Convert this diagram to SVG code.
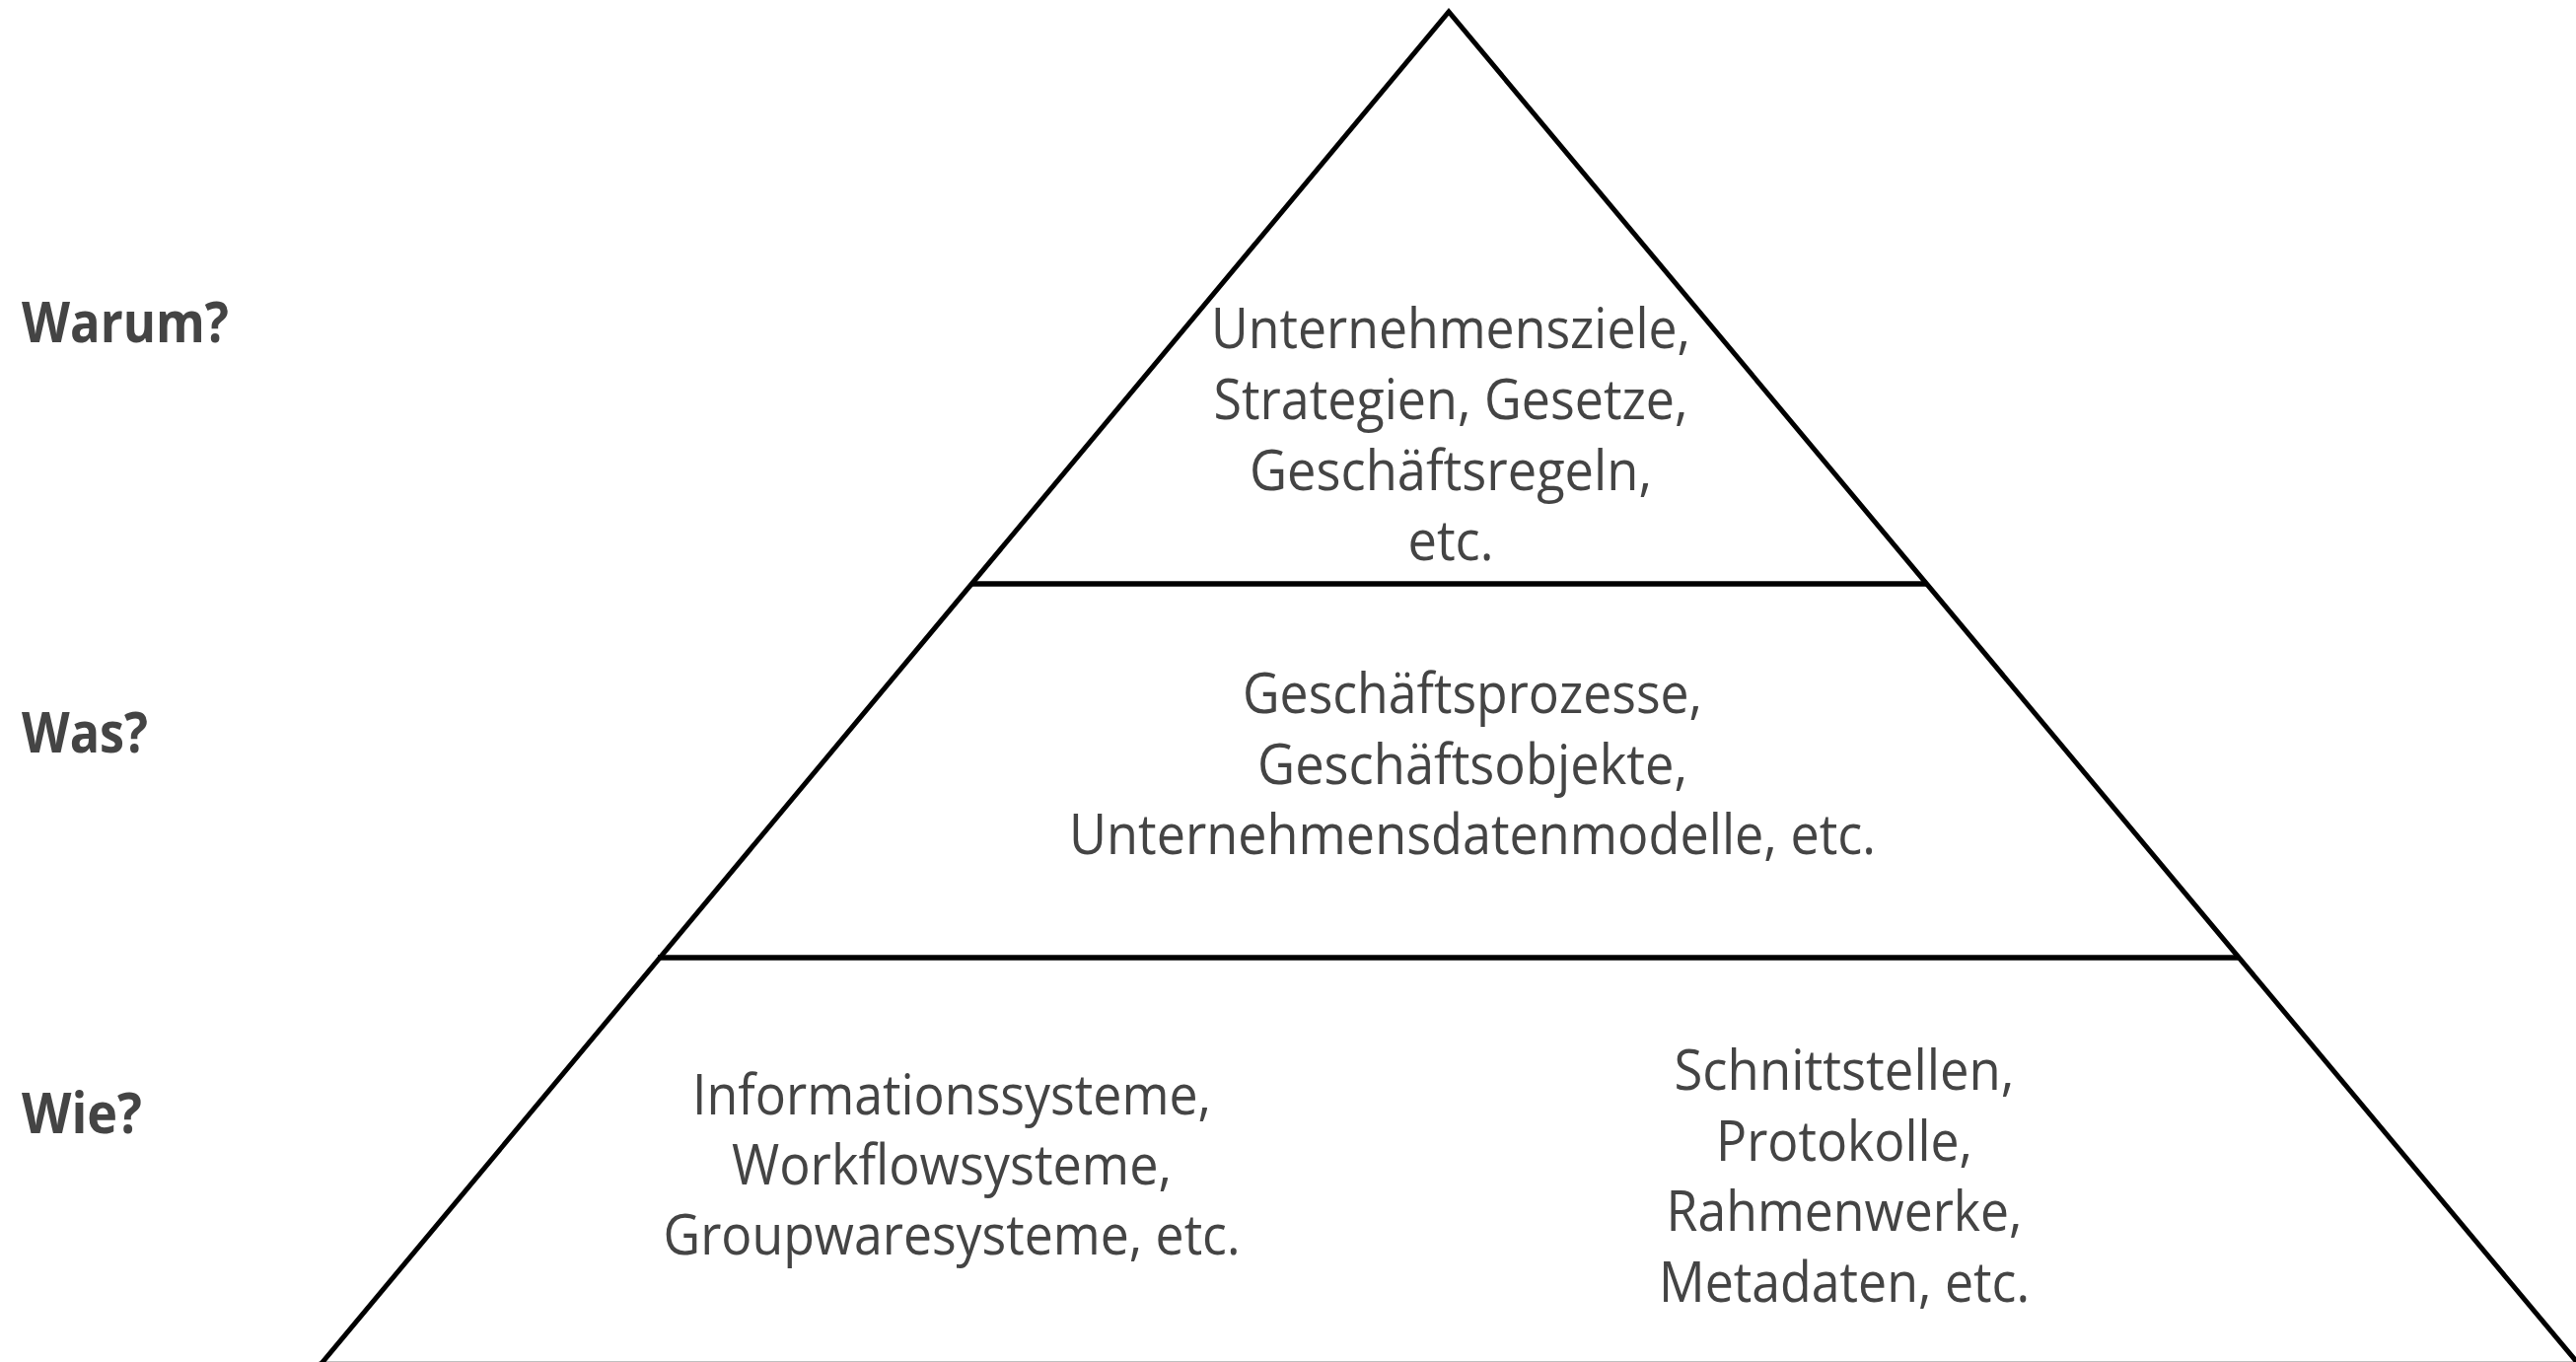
<svg xmlns="http://www.w3.org/2000/svg" width="2612" height="1381" viewBox="0 0 2612 1381">
  <style>
    .edge { stroke: #000; stroke-width: 5; fill: none; stroke-linecap: butt; stroke-linejoin: miter; }
    .tier { stroke: #000; stroke-width: 5.5; fill: none; }
    .body { font-family: "Open Sans", "Noto Sans", "Liberation Sans", sans-serif; font-size: 57px; fill: #444; text-anchor: middle; }
    .side { font-family: "Open Sans", "Noto Sans", "Liberation Sans", sans-serif; font-size: 57px; font-weight: bold; fill: #444; }
  </style>
  <rect width="2612" height="1381" fill="#fff"/>

  <!-- pyramid outline and tier dividers -->
  <g id="pyramid">
    <path class="edge" d="M323,1386 L1469,12 L2617,1386"/>
    <line class="tier" x1="985" y1="592" x2="1953" y2="592"/>
    <line class="tier" x1="667" y1="971" x2="2271" y2="971"/>
    <line class="tier" x1="323" y1="1383.5" x2="2612" y2="1383.5"/>
  </g>

  <!-- row labels -->
  <g id="label-warum"><text class="side" x="22" y="347" textLength="210" lengthAdjust="spacingAndGlyphs">Warum?</text></g>
  <g id="label-was"><text class="side" x="22" y="763" textLength="128" lengthAdjust="spacingAndGlyphs">Was?</text></g>
  <g id="label-wie"><text class="side" x="22" y="1149" textLength="122" lengthAdjust="spacingAndGlyphs">Wie?</text></g>

  <!-- top tier -->
  <g id="tier-top">
    <text class="body" x="1471" y="353" textLength="486" lengthAdjust="spacingAndGlyphs">Unternehmensziele,</text>
    <text class="body" x="1471" y="425" textLength="481" lengthAdjust="spacingAndGlyphs">Strategien, Gesetze,</text>
    <text class="body" x="1471" y="497" textLength="408" lengthAdjust="spacingAndGlyphs">Geschäftsregeln,</text>
    <text class="body" x="1471" y="568" textLength="87" lengthAdjust="spacingAndGlyphs">etc.</text>
  </g>

  <!-- middle tier -->
  <g id="tier-middle">
    <text class="body" x="1493" y="723" textLength="466" lengthAdjust="spacingAndGlyphs">Geschäftsprozesse,</text>
    <text class="body" x="1493" y="795" textLength="436" lengthAdjust="spacingAndGlyphs">Geschäftsobjekte,</text>
    <text class="body" x="1493" y="866" textLength="818" lengthAdjust="spacingAndGlyphs">Unternehmensdatenmodelle, etc.</text>
  </g>

  <!-- bottom tier, left -->
  <g id="tier-bottom-left">
    <text class="body" x="965" y="1130" textLength="526" lengthAdjust="spacingAndGlyphs">Informationssysteme,</text>
    <text class="body" x="965" y="1201" textLength="446" lengthAdjust="spacingAndGlyphs">Workflowsysteme,</text>
    <text class="body" x="965" y="1272" textLength="585" lengthAdjust="spacingAndGlyphs">Groupwaresysteme, etc.</text>
  </g>

  <!-- bottom tier, right -->
  <g id="tier-bottom-right">
    <text class="body" x="1870" y="1105" textLength="345" lengthAdjust="spacingAndGlyphs">Schnittstellen,</text>
    <text class="body" x="1870" y="1177" textLength="260" lengthAdjust="spacingAndGlyphs">Protokolle,</text>
    <text class="body" x="1870" y="1248" textLength="361" lengthAdjust="spacingAndGlyphs">Rahmenwerke,</text>
    <text class="body" x="1870" y="1320" textLength="376" lengthAdjust="spacingAndGlyphs">Metadaten, etc.</text>
  </g>
</svg>
